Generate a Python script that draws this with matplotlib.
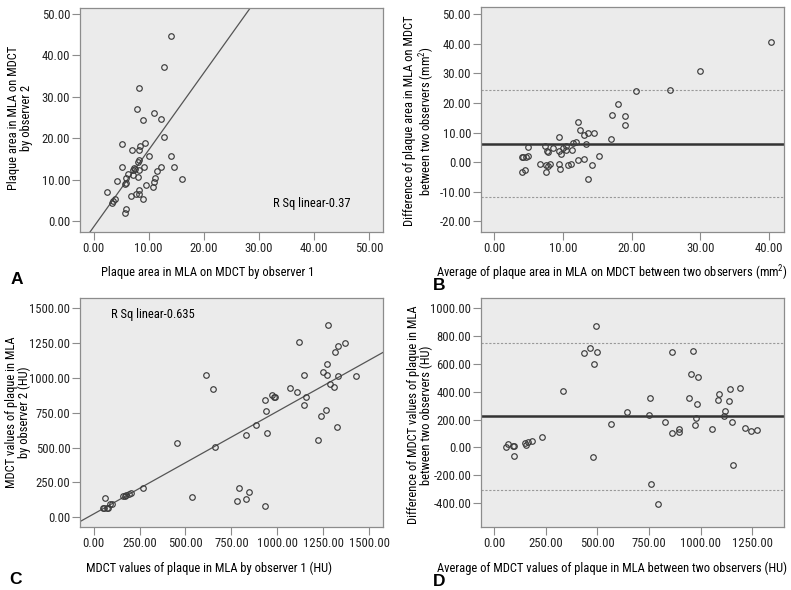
import matplotlib
matplotlib.use('Agg')
import matplotlib.pyplot as plt
from matplotlib import font_manager
import numpy as np

# the reference uses a condensed sans; take a narrow family if the box has one
installed = {f.name for f in font_manager.fontManager.ttflist}
narrow = [n for n in ['Liberation Sans Narrow', 'Roboto Condensed', 'Open Sans Condensed',
                      'Arial Narrow', 'Noto Sans Condensed'] if n in installed]
if narrow:
    FAMILY, K = narrow[0], 1.15
else:
    FAMILY, K = 'Liberation Sans', 1.0

plt.rcParams.update({'font.family': [FAMILY, 'DejaVu Sans'],
                     'font.size': 8 * K, 'mathtext.default': 'regular'})
TICK_FS = 7.9 * K
LAB_FS = 7.85 * K

# ---- A: plaque area, observer 1 vs observer 2 ----
a_obs1 = [14.0, 12.8, 8.2, 7.9, 10.9, 8.9, 12.3, 12.8, 5.2, 6.9, 8.4, 9.4, 8.2, 10.1, 14.1,
          8.2, 8.1, 5.1, 9.2, 12.3, 14.6, 7.6, 7.1, 8.2, 11.6, 6.2, 7.2, 8.1, 5.9, 11.2,
          11.0, 4.3, 5.7, 9.6, 10.7, 16.1, 2.4, 8.3, 6.7, 8.3, 7.7, 9.0, 3.8, 3.5, 3.3,
          5.8, 5.7, 5.8, 7.4]
a_obs2 = [44.6, 37.2, 32.1, 27.1, 26.2, 24.5, 24.6, 20.4, 18.5, 17.2, 18.0, 18.9, 17.2, 15.8, 15.7,
          14.7, 14.2, 13.1, 13.0, 13.0, 13.1, 12.5, 12.2, 12.2, 12.0, 11.4, 11.0, 10.5, 10.4, 10.3,
          9.5, 9.7, 9.0, 8.8, 8.1, 10.2, 7.1, 7.4, 6.0, 6.5, 6.5, 5.4, 5.3, 4.8, 4.4,
          2.8, 1.8, 9.2, 12.8]
a_slope, a_icpt = 1.86, -1.45

# ---- B: Bland-Altman, plaque area ----
b_avg = [40.2, 29.9, 25.6, 20.7, 18.0, 17.1, 19.1, 19.0, 12.2, 12.5, 14.6, 13.6, 13.1, 17.0, 9.4,
         11.9, 11.5, 13.3, 7.4, 5.0, 8.6, 10.4, 10.1, 10.4, 11.4, 9.4, 7.7, 7.8, 9.7, 15.3,
         4.9, 4.7, 4.2, 4.1, 13.1, 12.2, 6.7, 8.2, 9.5, 7.6, 7.9, 11.2, 10.7, 14.3, 9.6,
         4.5, 4.0, 7.6, 13.6]
b_diff = [40.5, 30.7, 24.5, 24.1, 19.5, 15.8, 15.6, 12.5, 13.7, 10.7, 9.8, 9.8, 9.3, 7.8, 8.4,
          6.9, 6.5, 6.0, 5.6, 5.1, 4.8, 5.5, 4.6, 4.1, 4.1, 3.9, 3.7, 3.4, 2.7, 1.9,
          2.0, 1.8, 1.7, 1.6, 0.9, 0.7, -0.5, -0.5, -0.5, -0.9, -1.4, -0.6, -1.1, -1.0, -2.3,
          -2.6, -3.5, -3.5, -5.6]
b_mean, b_upper, b_lower = 6.19, 24.3, -11.7

# ---- C: MDCT values, observer 1 vs observer 2 ----
c_obs1 = [1275, 1120, 1367, 1331, 1317, 1273, 612, 1144, 1251, 1273, 1333, 1431, 1287, 1309, 1071,
          1108, 648, 971, 982, 988, 1157, 935, 1146, 1264, 937, 1240, 883, 1327, 946, 832,
          1222, 452, 661, 538, 267, 790, 848, 832, 781, 933,
          50, 58, 70, 80, 90, 100, 62, 158, 168, 178, 190, 202]
c_obs2 = [1380, 1256, 1251, 1227, 1189, 1100, 1024, 1022, 1041, 1022, 1012, 1017, 955, 935, 926,
          902, 919, 876, 864, 864, 861, 840, 804, 768, 763, 725, 663, 651, 603, 589,
          553, 536, 505, 144, 208, 208, 179, 129, 117, 79,
          65, 70, 68, 64, 93, 98, 139, 153, 150, 158, 165, 175]
c_slope, c_icpt = 0.736, 23.8

# ---- D: Bland-Altman, MDCT values ----
d_avg = [492, 466, 437, 500, 485, 332, 861, 963, 953, 987, 1140, 1189, 1089, 945, 755,
         1084, 1139, 981, 1116, 645, 750, 1113, 977, 566, 827, 1152, 971, 1053, 1216, 1242,
         1271, 897, 895, 861, 231, 185, 165, 150, 155, 95, 90, 69, 58, 98, 477,
         1155, 760, 795]
d_diff = [873, 717, 676, 683, 599, 408, 683, 693, 530, 508, 420, 424, 384, 352, 357,
          343, 333, 309, 261, 256, 230, 223, 213, 168, 185, 182, 158, 132, 141, 115,
          127, 134, 110, 105, 74, 43, 36, 31, 14, 12, 7, 22, 0, -65, -72,
          -127, -264, -405]
d_mean, d_upper, d_lower = 223, 753, -304

BG = '#ebebeb'
EDGE = '#555555'


def base_axes(fig, rect, xlim, ylim, xticks, yticks):
    ax = fig.add_axes(rect)
    ax.set_facecolor(BG)
    ax.set_xlim(*xlim)
    ax.set_ylim(*ylim)
    ax.set_xticks(xticks)
    ax.set_yticks(yticks)
    ax.set_xticklabels([f'{t:.2f}' for t in xticks])
    ax.set_yticklabels([f'{t:.2f}' for t in yticks])
    for s in ax.spines.values():
        s.set_color('#8c8c8c')
        s.set_linewidth(0.9)
    ax.tick_params(length=5.5, width=0.8, color='#8c8c8c', pad=1.5, labelsize=TICK_FS, labelcolor='#222222')
    return ax


def scatter(ax, x, y):
    ax.plot(x, y, 'o', ms=4, mfc='none', mec='#3c3c3c', mew=0.85, zorder=3)


fig = plt.figure(figsize=(7.91, 5.90), dpi=100)

# A
axA = base_axes(fig, [0.1011, 0.6063, 0.3827, 0.3801], (-2.48, 52.5), (-2.74, 51.45),
                np.arange(0, 51, 10), np.arange(0, 51, 10))
scatter(axA, a_obs1, a_obs2)
xx = np.array([-2.48, 52.5])
axA.plot(xx, a_slope * xx + a_icpt, color=EDGE, lw=0.9, zorder=2)
axA.text(0.766, 0.13, 'R Sq linear-0.37', transform=axA.transAxes, ha='center', va='center', fontsize=LAB_FS)

# B
axB = base_axes(fig, [0.6077, 0.6063, 0.3838, 0.3824], (-1.94, 42.2), (-23.7, 52.5),
                np.arange(0, 41, 10), np.arange(-20, 51, 10))
axB.axhline(b_mean, color='#333333', lw=1.8, zorder=2)
axB.axhline(b_upper, color='#999999', lw=0.8, ls=(0, (2, 1.5)), zorder=2)
axB.axhline(b_lower, color='#999999', lw=0.8, ls=(0, (2, 1.5)), zorder=2)
scatter(axB, b_avg, b_diff)

# C
axC = base_axes(fig, [0.1011, 0.1063, 0.3827, 0.3891], (-74.5, 1574), (-71.8, 1576),
                np.arange(0, 1501, 250), np.arange(0, 1501, 250))
scatter(axC, c_obs1, c_obs2)
xx = np.array([-74.5, 1574])
axC.plot(xx, c_slope * xx + c_icpt, color=EDGE, lw=0.9, zorder=2)
axC.text(0.241, 0.925, 'R Sq linear-0.635', transform=axC.transAxes, ha='center', va='center', fontsize=LAB_FS)

# D
axD = base_axes(fig, [0.6077, 0.1063, 0.3838, 0.3891], (-64.5, 1405), (-575, 1076),
                np.arange(0, 1251, 250), np.arange(-400, 1001, 200))
axD.axhline(d_mean, color='#333333', lw=1.8, zorder=2)
axD.axhline(d_upper, color='#999999', lw=0.8, ls=(0, (2, 1.5)), zorder=2)
axD.axhline(d_lower, color='#999999', lw=0.8, ls=(0, (2, 1.5)), zorder=2)
scatter(axD, d_avg, d_diff)


def ftext(x, y, s, **kw):
    # pixel coords, origin top-left
    fig.text(x / 791, 1 - y / 590, s, ha='center', va='center', **kw)


ftext(208, 273, 'Plaque area in MLA on MDCT by observer 1', fontsize=LAB_FS)
ftext(612, 273, 'Average of plaque area in MLA on MDCT between two observers (mm$^2$)', fontsize=LAB_FS)
ftext(209, 568, 'MDCT values of plaque in MLA by observer 1 (HU)', fontsize=LAB_FS)
ftext(612, 568, 'Average of MDCT values of plaque in MLA between two observers (HU)', fontsize=LAB_FS)

ftext(20, 118, 'Plaque area in MLA on MDCT\nby observer 2', fontsize=LAB_FS, rotation=90, linespacing=1.05)
ftext(420, 121, 'Difference of plaque area in MLA on MDCT\nbetween two observers (mm$^2$)', fontsize=LAB_FS,
      rotation=90, linespacing=1.05)
ftext(18, 412, 'MDCT values of plaque in MLA\nby observer 2 (HU)', fontsize=LAB_FS, rotation=90, linespacing=1.0)
ftext(420, 415, 'Difference of MDCT values of plaque in MLA\nbetween two observers (HU)', fontsize=LAB_FS,
      rotation=90, linespacing=1.05)

for lab, x, y in [('A', 17, 279), ('B', 439, 286), ('C', 15, 580), ('D', 439, 582)]:
    ftext(x, y, lab, fontsize=12.5, fontweight='bold', family=['Liberation Sans', 'DejaVu Sans'])

fig.savefig('out.png', dpi=100, facecolor='white')
